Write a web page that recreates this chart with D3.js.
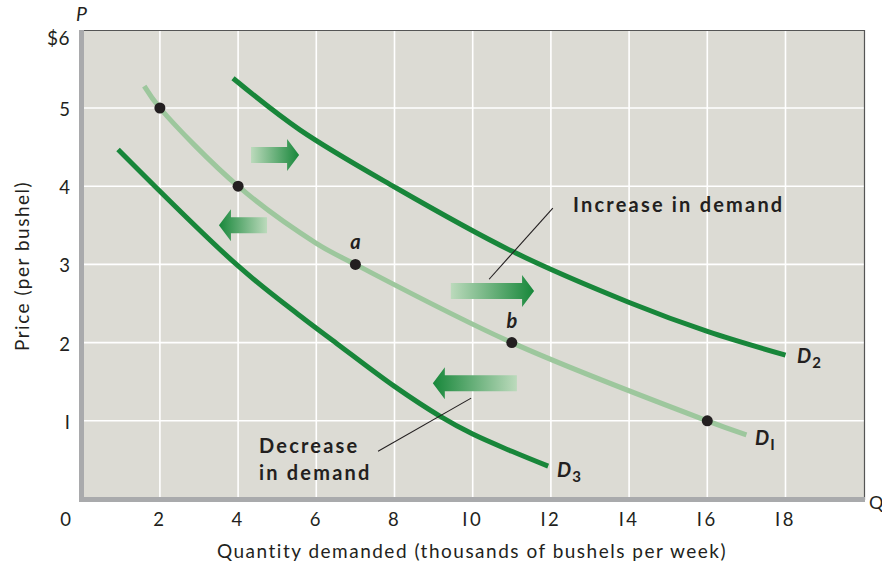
<!DOCTYPE html>
<html>
<head>
<meta charset="utf-8">
<script src="https://cdn.jsdelivr.net/npm/d3@7"></script>
<style>
  body { margin: 0; background: #fff; }
  svg text { font-family: Lato, "Open Sans", sans-serif; fill: #231f20; }
</style>
</head>
<body>
<svg id="chart" width="882" height="567"></svg>
<script>
// data (quantity in thousands of bushels, price in $)
var xTicks = [2, 4, 6, 8, 10, 12, 14, 16, 18];
var yTicks = [1, 2, 3, 4, 5];
var yTickLabels = ["I", "2", "3", "4", "5"];
var xTickLabels = ["2", "4", "6", "8", "I0", "I2", "I4", "I6", "I8"];
var demand1 = [[1.6, 5.28], [2, 5], [4, 4], [6, 3.27], [7, 3], [11, 2], [16, 1], [17, 0.82]];
var demand2 = [[3.87, 5.38], [5.58, 4.72], [8, 3.99], [11, 3.17], [14.02, 2.51], [16.02, 2.14], [18, 1.84]];
var demand3 = [[0.93, 4.47], [4, 2.98], [5.59, 2.34], [6.52, 1.99], [8, 1.44], [9.16, 1.06], [10, 0.83], [11, 0.61], [11.93, 0.42]];
var dots = [[2, 5], [4, 4], [7, 3], [11, 2], [16, 1]];
var pointLabels = [{ t: "a", q: 7, p: 3 }, { t: "b", q: 11, p: 2 }];

var svg = d3.select("#chart");
var x = d3.scaleLinear().domain([0, 20]).range([81.7, 863.7]);
var y = d3.scaleLinear().domain([0, 6]).range([499, 29.8]);

var darkGreen = "#18863a", lightGreen = "#9dc79d";

// gradients for the shift arrows
var defs = svg.append("defs");
function grad(id, flip) {
  var g = defs.append("linearGradient").attr("id", id)
    .attr("x1", flip ? "100%" : "0%").attr("x2", flip ? "0%" : "100%")
    .attr("y1", "0%").attr("y2", "0%");
  g.append("stop").attr("offset", "0%").attr("stop-color", "#bcdabc");
  g.append("stop").attr("offset", "100%").attr("stop-color", "#17873a");
}
grad("gRight", false);
grad("gLeft", true);

// plot background
svg.append("rect").attr("x", 84).attr("y", 30).attr("width", 780).attr("height", 467)
  .attr("fill", "#dcdbd4");

// grid
svg.append("g").selectAll("line").data(xTicks).join("line")
  .attr("x1", d => x(d)).attr("x2", d => x(d)).attr("y1", 30).attr("y2", 497)
  .attr("stroke", "#fff").attr("stroke-width", 1.6);
svg.append("g").selectAll("line").data(yTicks).join("line")
  .attr("x1", 84).attr("x2", 864).attr("y1", d => y(d)).attr("y2", d => y(d))
  .attr("stroke", "#fff").attr("stroke-width", 1.6);

// frame
svg.append("line").attr("x1", 84).attr("x2", 864).attr("y1", 30.5).attr("y2", 30.5)
  .attr("stroke", "#555").attr("stroke-width", 1.2);
svg.append("line").attr("x1", 864.5).attr("x2", 864.5).attr("y1", 30).attr("y2", 500)
  .attr("stroke", "#555").attr("stroke-width", 1.2);
svg.append("rect").attr("x", 79).attr("y", 30).attr("width", 5).attr("height", 472).attr("fill", "#a9aaac");
svg.append("rect").attr("x", 79).attr("y", 497).attr("width", 786).attr("height", 5).attr("fill", "#a9aaac");

// tick labels
svg.append("g").selectAll("text").data(xTicks).join("text")
  .attr("x", d => x(d)).attr("y", 526).attr("text-anchor", "middle")
  .attr("font-size", 18.5).attr("letter-spacing", 2.5)
  .text((d, i) => xTickLabels[i]);
svg.append("g").selectAll("text").data(yTicks).join("text")
  .attr("x", 70).attr("y", d => y(d) + 8).attr("text-anchor", "end")
  .attr("font-size", 18.5)
  .text((d, i) => yTickLabels[i]);
svg.append("text").attr("x", 70).attr("y", 45).attr("text-anchor", "end")
  .attr("font-size", 19).attr("letter-spacing", 0.5).text("$6");
svg.append("text").attr("x", 71).attr("y", 526).attr("text-anchor", "end")
  .attr("font-size", 18.5).text("0");
svg.append("text").attr("x", 76).attr("y", 21).attr("font-size", 19.5)
  .attr("font-style", "italic").text("P");
svg.append("text").attr("x", 869).attr("y", 509).attr("font-size", 18).text("Q");

// axis titles
svg.append("text").attr("x", 472).attr("y", 558).attr("text-anchor", "middle")
  .attr("font-size", 19).attr("letter-spacing", 1.5)
  .text("Quantity demanded (thousands of bushels per week)");
svg.append("text").attr("transform", "translate(29,266) rotate(-90)")
  .attr("text-anchor", "middle").attr("font-size", 19).attr("letter-spacing", 1.5)
  .text("Price (per bushel)");

// demand curves
var line = d3.line().x(d => x(d[0])).y(d => y(d[1])).curve(d3.curveCatmullRom.alpha(0.5));
svg.append("path").datum(demand1).attr("d", line).attr("fill", "none")
  .attr("stroke", lightGreen).attr("stroke-width", 5);
svg.append("path").datum(demand2).attr("d", line).attr("fill", "none")
  .attr("stroke", darkGreen).attr("stroke-width", 5);
svg.append("path").datum(demand3).attr("d", line).attr("fill", "none")
  .attr("stroke", darkGreen).attr("stroke-width", 5);

// points a, b etc
svg.append("g").selectAll("circle").data(dots).join("circle")
  .attr("cx", d => x(d[0])).attr("cy", d => y(d[1])).attr("r", 5.5).attr("fill", "#231f20");
svg.append("g").selectAll("text").data(pointLabels).join("text")
  .attr("x", d => x(d.q)).attr("y", d => y(d.p) - 15).attr("text-anchor", "middle")
  .attr("font-size", 20).attr("font-weight", "bold").attr("font-style", "italic")
  .text(d => d.t);

// shift arrows: tail and tip in data units
var arrows = [
  { tail: 4.33, tip: 5.56, p: 4.40 },
  { tail: 4.74, tip: 3.51, p: 3.50 },
  { tail: 9.44, tip: 11.57, p: 2.66 },
  { tail: 11.13, tip: 8.98, p: 1.48 }
];
svg.append("g").selectAll("path").data(arrows).join("path")
  .attr("d", function(d) {
    var x0 = x(d.tail), x1 = x(d.tip), cy = y(d.p);
    var dir = x1 > x0 ? 1 : -1, head = 12, bh = 8, hh = 16;
    var xb = x1 - dir * head;
    return "M" + x0 + "," + (cy - bh) + "L" + xb + "," + (cy - bh) + "L" + xb + "," + (cy - hh) +
      "L" + x1 + "," + cy + "L" + xb + "," + (cy + hh) + "L" + xb + "," + (cy + bh) +
      "L" + x0 + "," + (cy + bh) + "Z";
  })
  .attr("fill", d => d.tip > d.tail ? "url(#gRight)" : "url(#gLeft)");

// leader lines
svg.append("line").attr("x1", x(10.42)).attr("y1", y(2.81)).attr("x2", x(12.05)).attr("y2", y(3.72))
  .attr("stroke", "#231f20").attr("stroke-width", 1.1);
svg.append("line").attr("x1", x(7.58)).attr("y1", y(0.61)).attr("x2", x(9.96)).attr("y2", y(1.29))
  .attr("stroke", "#231f20").attr("stroke-width", 1.1);

// annotation text
svg.append("text").attr("x", 573).attr("y", 212).attr("font-size", 20).attr("font-weight", "bold")
  .attr("letter-spacing", 2.2).text("Increase in demand");
svg.append("text").attr("x", 259).attr("y", 453).attr("font-size", 20).attr("font-weight", "bold")
  .attr("letter-spacing", 2.2).text("Decrease");
svg.append("text").attr("x", 259).attr("y", 480).attr("font-size", 20).attr("font-weight", "bold")
  .attr("letter-spacing", 2.2).text("in demand");

// curve labels with subscripts
function curveLabel(px, py, sub) {
  var t = svg.append("text").attr("x", px).attr("y", py).attr("font-size", 20)
    .attr("font-weight", "bold").attr("font-style", "italic");
  t.append("tspan").text("D");
  t.append("tspan").attr("dx", 1).attr("dy", 5).attr("font-size", 15).attr("font-style", "normal").text(sub);
}
curveLabel(797, 363, "2");
curveLabel(755, 445, "I");
curveLabel(557, 477, "3");
</script>
</body>
</html>
